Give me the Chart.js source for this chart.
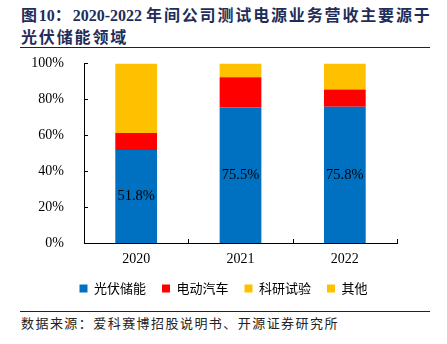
<!DOCTYPE html>
<html>
<head>
<meta charset="utf-8">
<script src="https://cdn.jsdelivr.net/npm/chart.js@4/dist/chart.umd.min.js"></script>
<style>
  body { margin: 0; width: 447px; height: 344px; background: #fff; position: relative; overflow: hidden; }
  #title { position: absolute; left: 21px; top: 4px; width: 420px; font: bold 16px "Noto Sans CJK SC"; color: #1F2D5A; line-height: 20px; letter-spacing: 1.85px; white-space: nowrap; }
  #title .en { font-family: "Liberation Serif"; letter-spacing: 0; }
  .rule { position: absolute; left: 20px; width: 410px; height: 1px; background: #222; }
  #source { position: absolute; left: 21px; top: 313px; font: 13px "Noto Sans CJK SC"; color: #222; letter-spacing: 1.45px; }
  #myChart { position: absolute; left: 0; top: 43px; }
</style>
</head>
<body>
<div id="title">图<span class="en">10</span>：<span class="en">2020-2022 </span>年间公司测试电源业务营收主要源于<br>光伏储能领域</div>
<div class="rule" style="top:47px"></div>
<canvas id="myChart" width="447" height="262"></canvas>
<div class="rule" style="top:311px"></div>
<div id="source">数据来源：爱科赛博招股说明书、开源证券研究所</div>
<script>
let years = ["2020", "2021", "2022"];
let pvStorage = [51.8, 75.5, 75.8];
let ev = [9.4, 16.8, 9.7];
let research = [38.5, 7.4, 14.2];
let others = [0.3, 0.3, 0.3];
let seriesNames = ["光伏储能", "电动汽车", "科研试验", "其他"];
const colors = ["#0070C0", "#FF0000", "#FFC000", "#FFC000"];
const serif = "Liberation Serif";

// inward tick marks like the original
const tickMarks = {
    id: "tickMarks",
    afterDraw(chart) {
        let ctx = chart.ctx;
        let area = chart.chartArea;
        let y = chart.scales.y;
        let x = chart.scales.x;
        ctx.save();
        ctx.strokeStyle = "#000";
        ctx.lineWidth = 1;
        ctx.beginPath();
        for (let v = 0; v <= 100; v += 20) {
            let py = Math.round(y.getPixelForValue(v)) + 0.5;
            ctx.moveTo(area.left, py);
            ctx.lineTo(area.left + 4, py);
        }
        let step = x.getPixelForValue(1) - x.getPixelForValue(0);
        for (let i = 0; i <= years.length; i++) {
            let px = Math.round(x.getPixelForValue(0) - step / 2 + i * step) + 0.5;
            ctx.moveTo(px, area.bottom);
            ctx.lineTo(px, area.bottom - 4);
        }
        ctx.stroke();
        ctx.restore();
    }
};

const barLabels = {
    id: "barLabels",
    afterDatasetsDraw(chart) {
        let ctx = chart.ctx;
        let meta = chart.getDatasetMeta(0);
        ctx.save();
        ctx.font = "14.5px " + serif;
        ctx.fillStyle = "#000";
        ctx.textAlign = "center";
        ctx.textBaseline = "middle";
        meta.data.forEach((bar, i) => {
            ctx.fillText(pvStorage[i].toFixed(1) + "%", bar.x, (bar.y + bar.base) / 2);
        });
        ctx.restore();
    }
};

let seriesData = [pvStorage, ev, research, others];

new Chart("myChart", {
    type: "bar",
    data: {
        labels: years,
        datasets: seriesNames.map((name, i) => ({
            label: name,
            data: seriesData[i],
            backgroundColor: colors[i],
            barPercentage: 0.8,
            categoryPercentage: 0.5
        }))
    },
    options: {
        responsive: false,
        devicePixelRatio: 1,
        animation: false,
        layout: { padding: { left: 0, right: 0, top: 2, bottom: 0 } },
        scales: {
            x: {
                stacked: true,
                grid: { display: false },
                border: { display: true, color: "#000", width: 1 },
                ticks: { font: { family: serif, size: 14 }, color: "#000", padding: 0 },
                afterFit: s => { s.height = 23; }
            },
            y: {
                stacked: true,
                min: 0,
                max: 100,
                grid: { display: false },
                border: { display: true, color: "#000", width: 1 },
                ticks: {
                    stepSize: 20,
                    font: { family: serif, size: 14 },
                    color: "#000",
                    padding: 12,
                    callback: v => v + "%"
                },
                afterFit: s => { s.width = 84; }
            },
            // empty axis on the right only to keep room there
            yRight: {
                position: "right",
                grid: { display: false },
                border: { display: false },
                ticks: { display: false },
                afterFit: s => { s.width = 50; }
            }
        },
        plugins: {
            legend: {
                position: "bottom",
                labels: {
                    boxWidth: 8,
                    boxHeight: 8,
                    padding: 16,
                    color: "#000",
                    font: { family: "Noto Sans CJK SC", size: 13 }
                }
            },
            tooltip: { enabled: false }
        }
    },
    plugins: [tickMarks, barLabels]
});
</script>
</body>
</html>
